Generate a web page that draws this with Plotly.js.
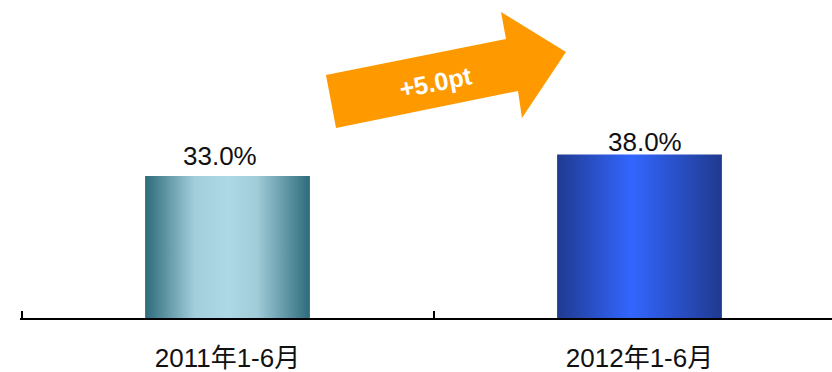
<!DOCTYPE html>
<html>
<head>
<meta charset="utf-8">
<script src="https://cdn.plot.ly/plotly-3.0.1.min.js"></script>
<style>
  html, body { margin: 0; padding: 0; background: #ffffff; }
  #chart { width: 832px; height: 372px; }
</style>
</head>
<body>
<div id="chart"></div>
<script>
// ---- data ----
var categories = ['2011年1-6月', '2012年1-6月'];
var values = [33.0, 38.0];
var valueLabels = ['33.0%', '38.0%'];
var changeLabel = '+5.0pt';

// ---- styles ----
var baseColors = ['#add8e6', '#3366ff'];
var gradientStops = [
  [[0, '#2d6b7b'], [0.3, '#a2cedb'], [0.5, '#add8e6'], [0.68, '#a0ccd8'], [1, '#2d6b7b']],
  [[0, '#1f3a8f'], [0.45, '#3366ff'], [1, '#1f3a8f']]
];
var labelShiftY = [3, -4];
var labelShiftX = [-8, 5];
var FONT = 'Liberation Sans, Arial, Noto Sans CJK SC, sans-serif';

// plot-area geometry (pixels) for the decorative arrow
var L = 20, T = 17, W = 812, H = 301;
var CAT = 412; // pixels per category
function px(x) { return (x - L) / W; }
function py(y) { return (T + H - y) / H; }
var arrowPts = [[326, 75], [506, 39], [501, 12], [566, 52], [522, 118], [518, 91], [336, 128]];
var arrowPath = arrowPts.map(function (p, i) {
  return (i === 0 ? 'M' : 'L') + px(p[0]).toFixed(4) + ',' + py(p[1]).toFixed(4);
}).join(' ') + ' Z';

var trace = {
  type: 'bar',
  x: categories,
  y: values,
  width: 0.4,
  marker: { color: baseColors, line: { width: 0 } },
  hoverinfo: 'none'
};

var annotations = categories.map(function (c, i) {
  return {
    x: c, y: values[i], xref: 'x', yref: 'y',
    text: valueLabels[i], showarrow: false,
    xanchor: 'center', yanchor: 'bottom', yshift: labelShiftY[i], xshift: labelShiftX[i],
    font: { family: FONT, size: 26, color: '#111111' }
  };
});
annotations.push({
  x: px(436), y: py(82), xref: 'paper', yref: 'paper',
  text: '<b>' + changeLabel + '</b>', showarrow: false,
  xanchor: 'center', yanchor: 'middle', textangle: -11.3,
  font: { family: FONT, size: 25, color: '#ffffff' }
});

var xStart = -0.5 - 1.5 / CAT;
var layout = {
  width: 832, height: 372,
  margin: { l: L, r: 0, t: T, b: 372 - T - H, pad: 0 },
  paper_bgcolor: '#ffffff', plot_bgcolor: '#ffffff',
  showlegend: false,
  xaxis: {
    type: 'category',
    range: [xStart, xStart + W / CAT],
    showline: true, linecolor: '#000000', linewidth: 2,
    ticks: 'inside', ticklen: 7, tickwidth: 2, tickcolor: '#000000',
    tickson: 'boundaries',
    showgrid: false, zeroline: false,
    ticklabelstandoff: 16,
    tickfont: { family: FONT, size: 26, color: '#111111' },
    fixedrange: true
  },
  yaxis: { range: [0, 70], visible: false, showgrid: false, zeroline: false, fixedrange: true },
  shapes: [{
    type: 'path', xref: 'paper', yref: 'paper', path: arrowPath,
    fillcolor: '#ff9900', line: { width: 0 }, layer: 'above'
  }],
  annotations: annotations
};

var gd = document.getElementById('chart');
Plotly.newPlot(gd, [trace], layout, { displayModeBar: false, staticPlot: true }).then(function () {
  var svg = gd.querySelector('svg.main-svg');
  var NS = 'http://www.w3.org/2000/svg';
  var defs = svg.querySelector('defs');
  if (!defs) { defs = document.createElementNS(NS, 'defs'); svg.insertBefore(defs, svg.firstChild); }
  gradientStops.forEach(function (stops, i) {
    var g = document.createElementNS(NS, 'linearGradient');
    g.setAttribute('id', 'barGrad' + i);
    g.setAttribute('x1', '0'); g.setAttribute('y1', '0');
    g.setAttribute('x2', '1'); g.setAttribute('y2', '0');
    stops.forEach(function (s) {
      var st = document.createElementNS(NS, 'stop');
      st.setAttribute('offset', s[0]);
      st.setAttribute('stop-color', s[1]);
      g.appendChild(st);
    });
    defs.appendChild(g);
  });
  var paths = gd.querySelectorAll('.barlayer .point path');
  paths.forEach(function (p, i) {
    if (i < gradientStops.length) p.style.fill = 'url(#barGrad' + i + ')';
  });
});
</script>
</body>
</html>
